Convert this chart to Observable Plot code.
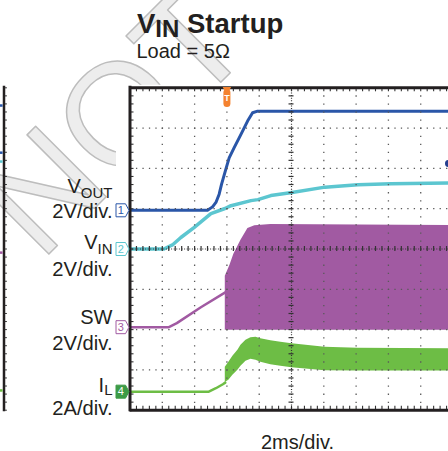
<!DOCTYPE html>
<html><head><meta charset="utf-8">
<script src="https://cdn.jsdelivr.net/npm/d3@7"></script>
<script src="https://cdn.jsdelivr.net/npm/@observablehq/plot@0.6"></script>
<style>
html,body{margin:0;padding:0;background:#fff;overflow:hidden;}
#wrap{position:relative;width:448px;height:451px;font-family:"Liberation Sans",Arial,sans-serif;color:#231f20;}
#chart{position:absolute;left:0;top:0;}
.t{position:absolute;white-space:nowrap;line-height:1;}
</style></head><body>
<div id="wrap"><div id="chart"></div></div>
<script>
// ---------- texts ----------
const title = "V_IN Startup";
const subtitle = "Load = 5Ω";
const caption = "2ms/div.";
const watermark = "NOT";

// ---------- scope setup ----------
const tRange = [-6, 13.72];          // ms (trigger at 0, 2 ms/div)
const chNames = ["V_OUT", "V_IN", "SW", "I_L"];
const chScaleLabels = ["2V/div.", "2V/div.", "2V/div.", "2A/div."];
const chUnitsPerDiv = [2, 2, 2, 2];
const chOffsets = [0.96, 0, -1.94, -3.54];   // divisions
const chColors = ["#2a56a8", "#5cc6d0", "#a15aa2", "#6dbd45"];
const chNumbers = ["1", "2", "3", "4"];
const nameRows = [1.38, -0.01, -1.87, -3.54];
const scaleRows = [0.76, -0.67, -2.50, -4.13];
const subShift = [5, 5, 0, 3];

// ---------- traces ----------
const voutT = [-6, -1.2, -0.89, -0.68, -0.48, -0.33, -0.06, 0.14, 0.45, 0.87, 1.28, 1.59, 1.9, 13.72];
const voutV = [0, 0, 0.17, 0.39, 0.8, 1.3, 2.06, 2.6, 3.11, 3.77, 4.43, 4.84, 4.92, 4.92];

const vinT = [-6, -3.9, -3.78, -3.34, -2.85, -2.04, -0.99, -0.12, 0.25, 1.49, 1.92, 2.72, 4.03, 6.07, 8.11, 10.16, 13.72];
const vinV = [0, 0, 0.05, 0.22, 0.57, 1.06, 1.76, 2.01, 2.15, 2.40, 2.45, 2.65, 2.80, 3.07, 3.19, 3.24, 3.28];

const swRampT = [-6, -3.59, -3.1, -1.61, -0.1];
const swRampV = [0, 0, 0.2, 0.99, 1.73];
const swBandT = [-0.1, 0.19, 0.43, 0.87, 1.3, 1.73, 2.72, 13.72];
const swTopV = [2.53, 3.07, 3.62, 4.31, 4.9, 5.03, 5.1, 5.05];
const swBottomV = [-0.15, -0.15, -0.15, -0.15, -0.15, -0.15, -0.15, -0.15];

const ilRampT = [-6, -1.12, -0.68, -0.25, -0.1];
const ilRampA = [0, 0, 0.17, 0.37, 0.45];
const ilBandT = [-0.1, 0.12, 0.37, 0.68, 0.87, 1.18, 1.49, 1.8, 2.1, 2.72, 3.34, 4.03, 6.07, 8.11, 13.72];
const ilTopA = [1.21, 1.46, 1.76, 2.06, 2.3, 2.55, 2.67, 2.7, 2.63, 2.53, 2.45, 2.38, 2.2, 2.15, 2.13];
const ilBottomA = [0.45, 0.57, 0.82, 1.06, 1.26, 1.51, 1.61, 1.56, 1.46, 1.34, 1.26, 1.19, 1.04, 1.02, 1.02];

// cursor dot at right edge, trace stubs of the neighbouring scope at left edge
const cursorDot = [{t: 13.72, y: 2.12}];
const leftStubY = [3.56, 2.39, 2.17, -0.09, -3.51];
const leftStubColor = ["#2a56a8", "#2a56a8", "#5cc6d0", "#a15aa2", "#6dbd45"];

// ---------- build ----------
const toDiv = (ch, v) => chOffsets[ch] + v / chUnitsPerDiv[ch];
const line = (T, V, ch) => T.map((t, i) => ({t, y: toDiv(ch, V[i])}));
const band = (T, lo, hi, ch) => T.map((t, i) => ({t, y1: toDiv(ch, lo[i]), y2: toDiv(ch, hi[i])}));

const vout = line(voutT, voutV, 0);
const vin = line(vinT, vinV, 1);
const swRamp = line(swRampT, swRampV, 2);
const swBand = band(swBandT, swBottomV, swTopV, 2);
const ilRamp = line(ilRampT, ilRampA, 3);
const ilBand = band(ilBandT, ilBottomA, ilTopA, 3);

const channels = chNames.map((name, i) => ({
  name, scale: chScaleLabels[i], y: chOffsets[i], color: chColors[i], num: chNumbers[i],
  nameY: nameRows[i], scaleY: scaleRows[i], filled: i === 3
}));

const x0 = tRange[0];
const pxX = 16.15, pxY = 40.3;
const xMinor = d3.range(-6, 13.75, 0.4);
const yMinor = d3.range(-4, 4.01, 0.2);
const xMajor = [-4, -2, 0, 2, 6, 8, 10, 12];
const yMajor = [-3, -2, -1, 1, 2, 3];
const FONT = "Liberation Sans, Arial, sans-serif";
const INK = "#231f20";
const GRID = "#5a5a5a";

const markerSymbol = {draw(ctx) {
  ctx.moveTo(-6, -6.5); ctx.lineTo(3.5, -6.5); ctx.lineTo(7, 0);
  ctx.lineTo(3.5, 6.5); ctx.lineTo(-6, 6.5); ctx.closePath();
}};

const plot = Plot.plot({
  width: 448, height: 451,
  marginLeft: 129.5, marginRight: 0, marginTop: 87.3, marginBottom: 41.3,
  x: {domain: tRange, axis: null},
  y: {domain: [-4, 4], axis: null},
  marks: [
    // watermark
    Plot.text([watermark], {frameAnchor: "top-left", dx: -89.5, dy: 174.7, rotate: -45,
      fontSize: 145, fontFamily: FONT, fill: "#ededed", stroke: "#bdbdbd", strokeWidth: 1.5,
      paintOrder: "normal", textAnchor: "start", lineAnchor: "bottom"}),
    // screen background
    Plot.frame({fill: "white", stroke: "none", insetLeft: -14, insetTop: -3, insetBottom: -3}),
    // traces
    Plot.areaY(swBand, {x: "t", y1: "y1", y2: "y2", fill: chColors[2]}),
    Plot.line(swRamp, {x: "t", y: "y", stroke: chColors[2], strokeWidth: 2.5}),
    Plot.areaY(ilBand, {x: "t", y1: "y1", y2: "y2", fill: chColors[3]}),
    Plot.line(ilRamp, {x: "t", y: "y", stroke: chColors[3], strokeWidth: 2.5}),
    Plot.line(vin, {x: "t", y: "y", stroke: chColors[1], strokeWidth: 3.5}),
    Plot.line(vout, {x: "t", y: "y", stroke: chColors[0], strokeWidth: 3}),
    // graticule
    Plot.ruleX(xMajor, {stroke: GRID, strokeWidth: 1.3, strokeDasharray: "1.3,6.76"}),
    Plot.ruleY(yMajor, {stroke: GRID, strokeWidth: 1.3, strokeDasharray: "1.3,5.16"}),
    Plot.ruleX([4], {stroke: "#333", strokeWidth: 1.2, strokeDasharray: "1,1.6"}),
    Plot.ruleY([0], {stroke: "#333", strokeWidth: 1.2, strokeDasharray: "1,1.6"}),
    Plot.ruleY(yMinor, {x1: 4 - 2.5 / pxX, x2: 4 + 2.5 / pxX, stroke: "#333", strokeWidth: 1.2}),
    Plot.ruleX(xMinor, {y1: -2.5 / pxY, y2: 2.5 / pxY, stroke: "#333", strokeWidth: 1.2}),
    Plot.ruleX(xMinor, {y1: 4, y2: 4 - 4 / pxY, stroke: "#333", strokeWidth: 1.1}),
    Plot.ruleX(xMinor, {y1: -4, y2: -4 + 4 / pxY, stroke: "#333", strokeWidth: 1.1}),
    Plot.ruleY(yMinor, {x1: x0, x2: x0 + 4 / pxX, stroke: "#333", strokeWidth: 1.1}),
    // frame (right side cropped)
    Plot.ruleY([4, -4], {stroke: INK, strokeWidth: 3}),
    Plot.ruleX([x0], {y1: -4.04, y2: 4.04, stroke: INK, strokeWidth: 3}),
    // trigger marker
    Plot.ruleX([0], {y1: 3.60, y2: 3.87, stroke: "#f4822f", strokeWidth: 7, strokeLinecap: "round"}),
    Plot.dot([0], {x: d => d, y: 3.96, symbol: "triangle", rotate: 180, r: 3.2, fill: "#f4822f"}),
    Plot.text([0], {x: d => d, y: 3.735, text: () => "T", fill: "white", fontSize: 9, fontWeight: "bold", fontFamily: FONT}),
    // channel markers
    Plot.dot(channels, {x: x0, y: "y", dx: -8, symbol: markerSymbol,
      fill: d => d.filled ? "#3d9b47" : "white", stroke: d => d.filled ? "#3d9b47" : d.color, strokeWidth: 1}),
    Plot.text(channels, {x: x0, y: "y", dx: -9.3, text: "num", fontSize: 11, fontFamily: FONT,
      fill: d => d.filled ? "white" : d.color, fontWeight: d => d.filled ? "bold" : "normal"}),
    // channel labels
    Plot.text(channels, {x: x0, y: "nameY", dx: -17.5, text: "name", textAnchor: "end", lineAnchor: "bottom",
      fontSize: 20, fontFamily: FONT, fill: INK}),
    Plot.text(channels, {x: x0, y: "scaleY", dx: -17.5, text: "scale", textAnchor: "end", lineAnchor: "bottom",
      fontSize: 20.2, fontFamily: FONT, fill: INK}),
    // cursor dot
    Plot.dot(cursorDot, {x: "t", y: "y", r: 3.5, fill: "#243f8f"}),
    // neighbouring scope at left edge
    Plot.ruleX([x0], {dx: -126, y1: -4.04, y2: 4.04, stroke: INK, strokeWidth: 2.5}),
    Plot.ruleY(yMinor, {x1: x0, x2: x0 + 2.2 / pxX, dx: -124.8, stroke: "#333", strokeWidth: 1}),
    Plot.ruleY(leftStubY, {x1: x0, x2: x0 + 2.6 / pxX, dx: -129.5, stroke: (d, i) => leftStubColor[i], strokeWidth: 2.5})
  ]
});
document.getElementById("chart").append(plot);

// subscripts in channel names
d3.select(plot).selectAll("text").filter(function() { return this.textContent.includes("_"); })
  .each(function() {
    const [a, b] = this.textContent.split("_");
    const k = chNames.indexOf(this.textContent);
    const sel = d3.select(this);
    sel.text(a);
    sel.append("tspan").attr("font-size", 15).attr("dy", k >= 0 ? subShift[k] : 4.5).text(b);
  });

// html title / subtitle / caption
const wrap = document.getElementById("wrap");
function addText(str, css, subCss) {
  const div = document.createElement("div");
  div.className = "t";
  Object.assign(div.style, css);
  const m = str.match(/^([^_]*)_(\S+)(.*)$/);
  if (m) {
    div.append(m[1]);
    const s = document.createElement("span");
    s.textContent = m[2];
    Object.assign(s.style, subCss);
    div.append(s);
    div.append(m[3]);
  } else div.textContent = str;
  wrap.append(div);
}
addText(title, {left: "137px", top: "9.7px", fontSize: "27.5px", fontWeight: "bold"}, {fontSize: "24px", verticalAlign: "-4px"});
addText(subtitle, {left: "136.5px", top: "41px", fontSize: "20px"});
addText(caption, {left: "261px", top: "431.5px", fontSize: "20px"});
</script>
</body></html>
